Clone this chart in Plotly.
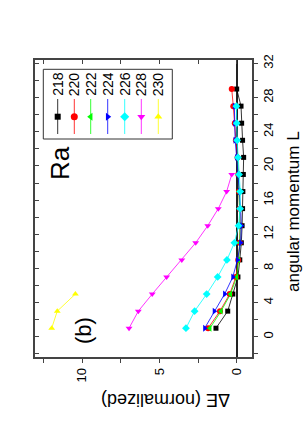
import plotly.graph_objects as go

# ---------------- data ----------------
L_odd = [1, 3, 5, 7, 9, 11, 13, 15, 17, 19, 21, 23, 25, 27, 29]

dE_218 = [1.34, 0.58, 0.25, -0.08, -0.2, -0.3, -0.35, -0.38, -0.4, -0.43, -0.45, -0.38, -0.32, -0.28, 0.0]
dE_220 = [1.85, 1.08, 0.45, 0.05, -0.1, -0.2, -0.22, -0.2, -0.15, -0.1, -0.05, 0.05, 0.12, 0.22, 0.32]
dE_222 = [1.73, 1.01, 0.40, 0.0, -0.12, -0.2, -0.22, -0.2, -0.15, -0.1, -0.05]
dE_224 = [2.07, 1.45, 0.78, 0.25, -0.05, -0.25, -0.3, -0.25, -0.18, -0.1, 0.0, 0.1, 0.12, 0.15]
dE_226 = [3.28, 2.72, 1.94, 1.23, 0.63, 0.15, -0.12, -0.22, -0.23, -0.15, -0.08, -0.03, 0.0, 0.02]
dE_228 = [6.96, 6.36, 5.46, 4.53, 3.55, 2.65, 1.87, 1.19, 0.65, 0.32]
dE_230 = [11.96, 11.6, 10.43]

isotopes = ["218", "220", "222", "224", "226", "228", "230"]
series = [dE_218, dE_220, dE_222, dE_224, dE_226, dE_228, dE_230]
colors = ["#000000", "#FF0000", "#00FF00", "#0000FF", "#00FFFF", "#FF00FF", "#FFFF00"]
symbols = ["square", "circle", "triangle-left", "triangle-right", "diamond", "triangle-down", "triangle-up"]
sizes = [5, 6, 6, 6, 6, 6, 6]

x_ticks = [0, 5, 10]
y_ticks = [0, 4, 8, 12, 16, 20, 24, 28, 32]

# ---------------- layout geometry (pixels) ----------------
W, H = 303, 436
PL, PR, PT, PB = 35, 252, 60, 357
FONT = "Liberation Sans, Arial, sans-serif"


def px(x):
    return (x - PL) / (PR - PL)


def py(y):
    return (PB - y) / (PB - PT)


fig = go.Figure()

for name, vals, col, sym, sz in zip(isotopes, series, colors, symbols, sizes):
    fig.add_trace(go.Scatter(
        x=vals, y=L_odd[:len(vals)], mode="lines+markers", name=name,
        line=dict(color=col, width=0.8),
        marker=dict(symbol=sym, size=sz, color=col, line=dict(width=0)),
        showlegend=False, xaxis="x", yaxis="y"))

# dummy traces so mirrored tick axes get drawn
fig.add_trace(go.Scatter(x=[None], y=[None], xaxis="x2", yaxis="y", showlegend=False))
fig.add_trace(go.Scatter(x=[None], y=[None], xaxis="x", yaxis="y2", showlegend=False))

# ---------------- custom legend (rotated) ----------------
leg_x = [57.7, 74.3, 90.7, 107.7, 124.7, 141.3, 158.3]
for lx, name, col, sym, sz in zip(leg_x, isotopes, colors, symbols, sizes):
    fig.add_trace(go.Scatter(
        x=[lx, lx, lx], y=[99, 116.7, 134], mode="lines",
        line=dict(color=col, width=0.8), showlegend=False,
        xaxis="x3", yaxis="y3", hoverinfo="skip"))
    fig.add_trace(go.Scatter(
        x=[lx], y=[116.7], mode="markers",
        marker=dict(symbol=sym, size=sz + 1, color=col, line=dict(width=0)),
        showlegend=False, xaxis="x3", yaxis="y3", hoverinfo="skip"))
    fig.add_annotation(x=px(lx), y=py(84), xref="paper", yref="paper",
                       text=name, showarrow=False, textangle=-90,
                       font=dict(family=FONT, size=14, color="black"),
                       xanchor="center", yanchor="middle")

fig.add_shape(type="rect", xref="paper", yref="paper",
              x0=px(43.3), x1=px(172.3), y0=py(69.3), y1=py(139),
              line=dict(color="#333333", width=1), fillcolor="rgba(0,0,0,0)")

# ---------------- texts ----------------
def label(x, y, text, angle, size):
    fig.add_annotation(x=px(x), y=py(y), xref="paper", yref="paper", text=text,
                       showarrow=False, textangle=angle, xanchor="center",
                       yanchor="middle", font=dict(family=FONT, size=size, color="black"))


label(60, 163, "Ra", -90, 26)
label(83, 331, "(b)", -90, 22)
label(166, 400, "ΔE (normalized)", 180, 18)
label(293, 212, "angular momentum L", -90, 17)

XR = [13.04, -0.99]
YR = [-2.37, 32.4]
axis_col = "#444444"

fig.update_layout(
    width=W, height=H,
    margin=dict(l=PL, r=W - PR, t=PT, b=H - PB, pad=0, autoexpand=False),
    paper_bgcolor="white", plot_bgcolor="white",
    font=dict(family=FONT, size=13, color="black"),
    showlegend=False,
    xaxis=dict(range=XR, showgrid=False, zeroline=True, zerolinecolor="#222222",
               zerolinewidth=1.5, showline=True, linecolor=axis_col, linewidth=1.5,
               mirror=True, ticks="outside", ticklen=4, tickcolor=axis_col,
               tickvals=x_ticks, ticktext=[str(v) for v in x_ticks], tickangle=-90,
               tickfont=dict(family=FONT, size=13), automargin=False,
               minor=dict(dtick=2.5, ticks="outside", ticklen=4, tickcolor=axis_col),
               anchor="y"),
    yaxis=dict(range=YR, showgrid=False, zeroline=False, showline=True,
               linecolor=axis_col, linewidth=1.5, mirror=True, side="right",
               ticks="outside", ticklen=4, tickcolor=axis_col,
               tickvals=y_ticks, ticktext=[str(v) for v in y_ticks], tickangle=-90,
               tickfont=dict(family=FONT, size=13), automargin=False,
               minor=dict(dtick=2, ticks="outside", ticklen=4, tickcolor=axis_col),
               anchor="x"),
    xaxis2=dict(range=XR, overlaying="x", side="top", anchor="y", showgrid=False,
                zeroline=False, showline=False, showticklabels=False, automargin=False,
                ticks="inside", ticklen=4, tickcolor=axis_col, tickvals=x_ticks,
                minor=dict(dtick=2.5, ticks="inside", ticklen=4, tickcolor=axis_col)),
    yaxis2=dict(range=YR, overlaying="y", side="left", anchor="x", showgrid=False,
                zeroline=False, showline=False, showticklabels=False, automargin=False,
                ticks="inside", ticklen=4, tickcolor=axis_col, tickvals=y_ticks,
                minor=dict(dtick=2, ticks="inside", ticklen=4, tickcolor=axis_col)),
    xaxis3=dict(range=[PL, PR], overlaying="x", anchor="y3", visible=False, automargin=False),
    yaxis3=dict(range=[PB, PT], overlaying="y", anchor="x3", visible=False, automargin=False),
)

fig.write_html("out.html", config={"displayModeBar": False},
               post_script="document.body.style.margin='0';document.body.style.overflow='hidden';")
